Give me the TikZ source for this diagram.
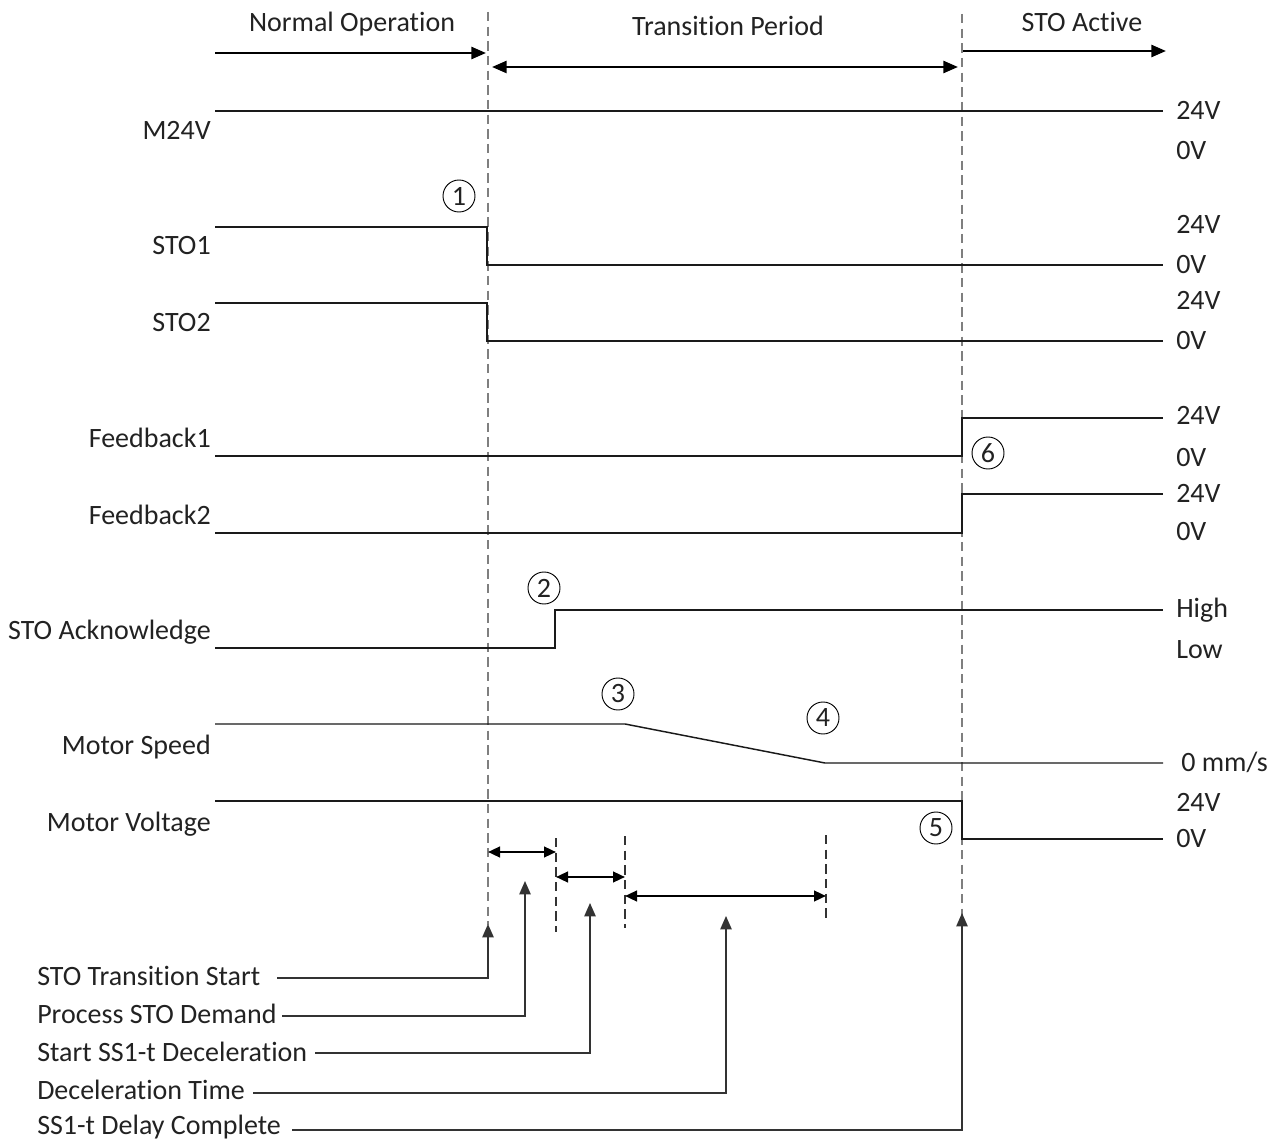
\documentclass[tikz,border=0pt]{standalone}
\usepackage{fontspec}
\setmainfont{Carlito}[Ligatures=NoCommon]
\usetikzlibrary{arrows.meta}
\definecolor{txt}{HTML}{222222}
\definecolor{sigc}{HTML}{1A1A1A}
\definecolor{dashc}{HTML}{7F7F7F}
\definecolor{leadc}{HTML}{333333}
\begin{document}
\begin{tikzpicture}[x=0.75pt,y=-0.75pt,
  font=\fontsize{21}{25}\selectfont, text=txt,
  sig/.style={draw=sigc, line width=1.1pt},
  phase/.style={draw=black, line width=1.9pt, -{Triangle[length=11pt,width=9pt]}},
  phase2/.style={draw=black, line width=1.9pt, {Triangle[length=11pt,width=9pt]}-{Triangle[length=11pt,width=9pt]}},
  dim/.style={draw=black, line width=1.7pt, {Triangle[length=9pt,width=8pt]}-{Triangle[length=9pt,width=8pt]}},
  bigdash/.style={draw=dashc, line width=1.1pt, dash pattern=on 7pt off 4pt},
  smalldash/.style={draw=black!80, line width=0.9pt, dash pattern=on 7pt off 4pt},
  lead/.style={draw=leadc, line width=1.1pt, -{Triangle[length=10pt,width=8.5pt]}},
  lbl/.style={anchor=base east, inner sep=0pt},
  rl/.style={anchor=base west, inner sep=0pt},
  bl/.style={anchor=base west, inner sep=0pt},
  num/.style={circle, draw=black, line width=0.7pt, inner sep=0pt, minimum size=24pt, font=\fontsize{21}{23}\selectfont}
]
\useasboundingbox[fill=white] (0,0) rectangle (1279,1141);

% phase headers
\node[anchor=base, inner sep=0pt] (hNO) at (352,32) {Normal Operation};
\node[anchor=base, inner sep=0pt] (hTP) at (728,36) {Transition Period};
\node[anchor=base, inner sep=0pt] (hSA) at (1082,32) {STO Active};

\coordinate (noL) at (215,53);
\coordinate (noR) at (486,53);
\coordinate (tpL) at (492,67);
\coordinate (tpR) at (958,67);
\coordinate (saL) at (963,51);
\coordinate (saR) at (1166,51);
\draw[phase] (noL) -- (noR);
\draw[phase2] (tpL) -- (tpR);
\draw[phase] (saL) -- (saR);

% dashed time markers
\coordinate (d1top) at (488,12);
\coordinate (d1bot) at (488,925);
\coordinate (d2top) at (962,14);
\coordinate (d2bot) at (962,915);
\draw[bigdash] (d1top) -- (d1bot);
\draw[bigdash] (d2top) -- (d2bot);

% M24V
\draw[sig] (215,111) -- (1163,111);
\node[lbl] (lM) at (211,140) {M24V};
\node[rl] (rM1) at (1176,120) {24V};
\node[rl] (rM0) at (1176,160) {0V};

% STO1
\draw[sig] (215,227) -- (487,227) -- (487,265) -- (1163,265);
\node[lbl] (lS1) at (211,255) {STO1};
\node[rl] (rS11) at (1176,234) {24V};
\node[rl] (rS10) at (1176,274) {0V};
\node[num] (n1) at (459,196) {1};

% STO2
\draw[sig] (215,303) -- (487,303) -- (487,341) -- (1163,341);
\node[lbl] (lS2) at (211,332) {STO2};
\node[rl] (rS21) at (1176,310) {24V};
\node[rl] (rS20) at (1176,350) {0V};

% Feedback1
\draw[sig] (215,456) -- (962,456) -- (962,418) -- (1163,418);
\node[lbl] (lF1) at (211,447) {Feedback1};
\node[rl] (rF11) at (1176,425) {24V};
\node[rl] (rF10) at (1176,466) {0V};
\node[num] (n6) at (988,453) {6};

% Feedback2
\draw[sig] (215,533) -- (962,533) -- (962,494) -- (1163,494);
\node[lbl] (lF2) at (211,524) {Feedback2};
\node[rl] (rF21) at (1176,503) {24V};
\node[rl] (rF20) at (1176,540) {0V};

% STO Acknowledge
\draw[sig] (215,648) -- (555,648) -- (555,610) -- (1163,610);
\node[lbl] (lSA) at (211,639) {STO Acknowledge};
\node[rl] (rSAh) at (1176,617) {High};
\node[rl] (rSAl) at (1176,658) {Low};
\node[num] (n2) at (544,588) {2};

% Motor Speed
\draw[sig] (215,724) -- (625,724) -- (825,763) -- (1163,763);
\node[lbl] (lMS) at (211,754) {Motor Speed};
\node[rl] (rMS) at (1181,771) {0 mm/s};
\node[num] (n3) at (618,694) {3};
\node[num] (n4) at (823,718) {4};

% Motor Voltage
\draw[sig] (215,801) -- (962,801) -- (962,839) -- (1163,839);
\node[lbl] (lMV) at (211,831) {Motor Voltage};
\node[rl] (rMV1) at (1176,811) {24V};
\node[rl] (rMV0) at (1176,847) {0V};
\node[num] (n5) at (936,828) {5};

% short dashed markers
\coordinate (s1t) at (556,838); \coordinate (s1b) at (556,932);
\coordinate (s2t) at (625,836); \coordinate (s2b) at (625,928);
\coordinate (s3t) at (826,835); \coordinate (s3b) at (826,920);
\draw[smalldash] (s1t) -- (s1b);
\draw[smalldash] (s2t) -- (s2b);
\draw[smalldash] (s3t) -- (s3b);

% interval arrows
\coordinate (i1L) at (488,852); \coordinate (i1R) at (556,852);
\coordinate (i2L) at (556,877); \coordinate (i2R) at (625,877);
\coordinate (i3L) at (625,896); \coordinate (i3R) at (826,896);
\draw[dim] (i1L) -- (i1R);
\draw[dim] (i2L) -- (i2R);
\draw[dim] (i3L) -- (i3R);

% bottom labels
\node[bl] (b1) at (37,985) {STO Transition Start};
\node[bl] (b2) at (37,1023) {Process STO Demand};
\node[bl] (b3) at (37,1061) {Start SS1-t Deceleration};
\node[bl] (b4) at (37,1099) {Deceleration Time};
\node[bl] (b5) at (37,1134) {SS1-t Delay Complete};

\coordinate (a1s) at (277,978); \coordinate (a1t) at (488,924);
\coordinate (a2s) at (282,1016); \coordinate (a2t) at (525,881);
\coordinate (a3s) at (315,1053); \coordinate (a3t) at (590,903);
\coordinate (a4s) at (253,1093); \coordinate (a4t) at (726,916);
\coordinate (a5s) at (292,1130); \coordinate (a5t) at (962,913);
\draw[lead] (a1s) -| (a1t);
\draw[lead] (a2s) -| (a2t);
\draw[lead] (a3s) -| (a3t);
\draw[lead] (a4s) -| (a4t);
\draw[lead] (a5s) -| (a5t);
\end{tikzpicture}
\end{document}
